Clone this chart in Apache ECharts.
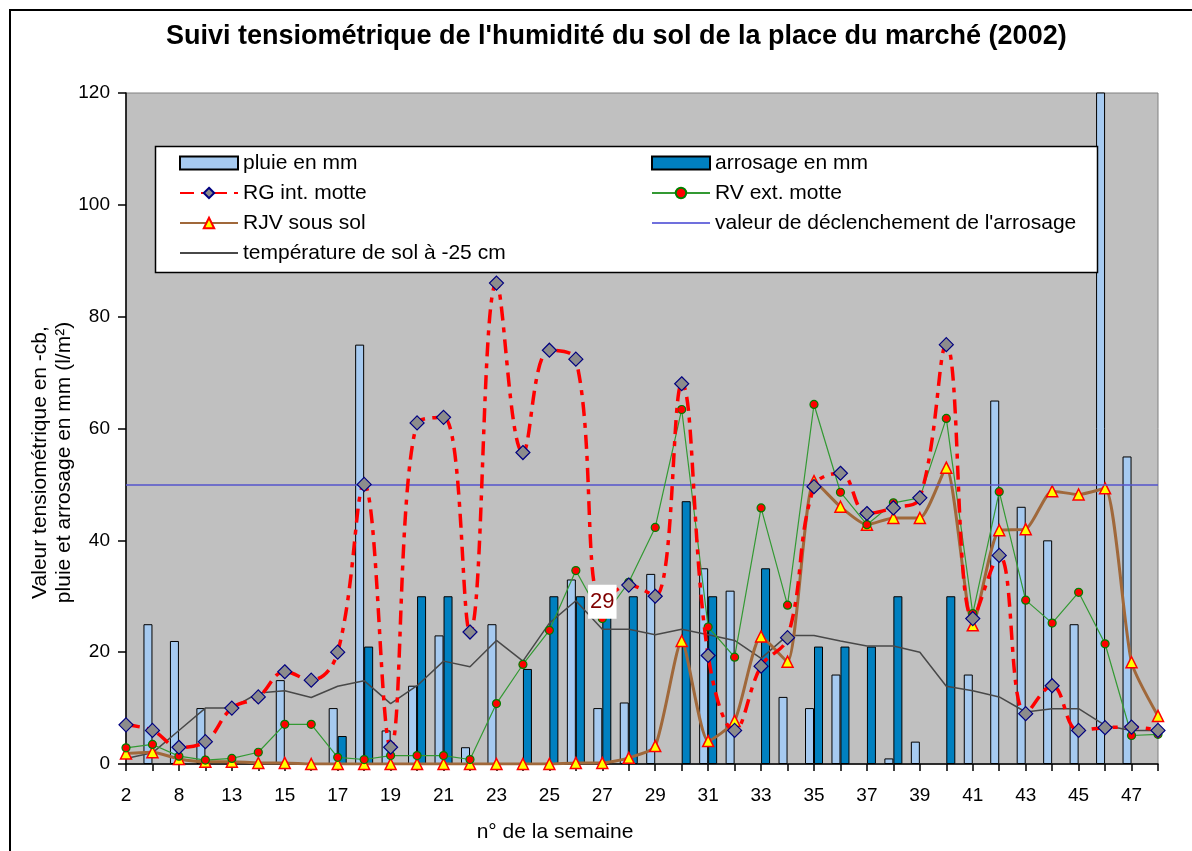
<!DOCTYPE html>
<html>
<head>
<meta charset="utf-8">
<style>
  html, body { margin: 0; padding: 0; background: #fff; }
  #chart { width: 1192px; height: 851px; }
</style>
<script src="https://cdn.jsdelivr.net/npm/echarts@6/dist/echarts.min.js"></script>
</head>
<body>
<div id="chart"></div>
<script>
// semaines (les libellés 5 et 10 sont masqués par l'intervalle d'étiquettes)
const semaines = ['2', '5', '8', '10', '13', '14', '15', '16', '17', '18', '19', '20', '21', '22', '23', '24', '25', '26', '27', '28',
  '29', '30', '31', '32', '33', '34', '35', '36', '37', '38', '39', '40', '41', '42', '43', '44', '45', '46', '47', '48']

const pluie = [null, 25, 22, 10, null, null, 15, null, 10, 75, 6, 14, 23, 3, 25, null, null, 33, 10, 11,
  34, null, 35, 31, null, 12, 10, 16, null, 1, 4, null, 16, 65, 46, 40, 25, 130, 55, null]
const arrosage = [null, null, null, null, null, null, null, null, 5, 21, null, 30, 30, null, null, 17, 30, 30, 30, 30,
  null, 47, 30, null, 35, null, 21, 21, 21, 30, null, 30, null, null, null, null, null, null, null, null]

const rgIntMotte = [7, 6, 3, 4, 10, 12, 16.5, 15, 20, 50, 3, 61, 62, 23.6, 86, 55.7, 74, 72.4, 29, 32,
  30, 68, 19.4, 6, 17.5, 22.6, 49.6, 52, 44.8, 45.8, 47.6, 75, 26, 37.3, 9, 14, 6, 6.5, 6.6, 6]
const rvExtMotte = [2.9, 3.5, 1.4, 0.7, 1, 2.1, 7.1, 7.1, 1.2, 0.8, 1.5, 1.5, 1.5, 0.8, 10.8, 17.8, 23.9, 34.6, 26, 32.5,
  42.3, 63.4, 24.5, 19.1, 45.8, 28.4, 64.3, 48.6, 42.8, 46.7, 47.6, 61.8, 26.9, 48.7, 29.3, 25.2, 30.7, 21.5, 5.1, 5.3]
const rjvSousSol = [1.9, 2.1, 0.9, 0.4, 0.4, 0.2, 0.2, 0, 0, 0, 0, 0, 0, 0, 0, 0, 0, 0.2, 0.2, 1.1,
  3.2, 22, 4.1, 7.7, 22.8, 18.3, 50.6, 46, 42.8, 44, 44, 53, 24.8, 41.8, 42, 48.8, 48.2, 49.3, 18.2, 8.6]
const tempSol = [1, 2, 6, 10, 10, 12.7, 13.1, 11.9, 13.9, 14.9, 10.8, 14, 18.4, 17.4, 22.1, 18.4, 25.2, 29.2, 24.1, 24.1,
  23.1, 24.1, 23.1, 22.1, 18.9, 23, 23, 22, 21.1, 21.1, 20, 13.9, 13.1, 12, 9.3, 9.9, 9.9, 6.9, 6, 6]

const seuilArrosage = 50
const indexEtiquette = 18 // semaine 27, valeur affichée

const police = "'Liberation Sans', Arial, sans-serif"

const chart = echarts.init(document.getElementById('chart'))

const rgData = rgIntMotte.map((v, i) => i === indexEtiquette
  ? {
      value: v,
      symbolSize: 0,
      label: {
        show: true,
        position: 'inside',
        formatter: '{c}',
        color: '#800000',
        fontSize: 22,
        fontFamily: police,
        backgroundColor: '#ffffff',
        padding: [6, 2, 6, 2]
      }
    }
  : v)

const legendeTexte = { fontSize: 21, fontFamily: police, color: '#000', lineHeight: 30, height: 30 }

chart.setOption({
  animation: false,
  backgroundColor: '#ffffff',
  textStyle: { fontFamily: police, color: '#000' },
  title: {
    text: "Suivi tensiométrique de l'humidité du sol de la place du marché (2002)",
    left: 161,
    top: 18,
    textStyle: { fontSize: 27, fontWeight: 'bold', fontFamily: police, color: '#000' }
  },
  graphic: [
    {
      // cadre extérieur
      type: 'rect',
      z: -1,
      shape: { x: 10, y: 10, width: 1200, height: 900 },
      style: { fill: 'none', stroke: '#000', lineWidth: 2 }
    },
    {
      // boîte de la légende
      type: 'rect',
      z: 5,
      shape: { x: 155.5, y: 146.5, width: 942, height: 126 },
      style: { fill: '#fff', stroke: '#000', lineWidth: 1.5 }
    }
  ],
  legend: [
    {
      z: 10,
      orient: 'vertical',
      left: 179,
      top: 148,
      padding: 0,
      itemGap: 0,
      itemWidth: 58,
      itemHeight: 13,
      textStyle: legendeTexte,
      data: [
        { name: 'pluie en mm', icon: 'rect' },
        'RG int. motte',
        'RJV sous sol',
        { name: 'température de sol à -25 cm', itemStyle: { opacity: 0 } }
      ]
    },
    {
      z: 10,
      orient: 'vertical',
      left: 651,
      top: 148,
      padding: 0,
      itemGap: 0,
      itemWidth: 58,
      itemHeight: 13,
      textStyle: legendeTexte,
      data: [
        { name: 'arrosage en mm', icon: 'rect' },
        'RV ext. motte',
        { name: "valeur de déclenchement de l'arrosage", itemStyle: { opacity: 0 } }
      ]
    }
  ],
  grid: {
    left: 126,
    right: 34,
    top: 93,
    bottom: 87,
    show: true,
    backgroundColor: '#c0c0c0',
    borderColor: '#808080',
    borderWidth: 1
  },
  xAxis: {
    type: 'category',
    data: semaines,
    boundaryGap: false,
    name: 'n° de la semaine',
    nameLocation: 'middle',
    nameGap: 58,
    nameMoveOverlap: false,
    nameTextStyle: { fontSize: 21, fontFamily: police, color: '#000', padding: [0, 174, 0, 0] },
    axisLine: { lineStyle: { color: '#000', width: 1.5 } },
    axisTick: { show: true, alignWithLabel: true, interval: 0, length: 7, lineStyle: { color: '#000', width: 1.5 } },
    axisLabel: { interval: 1, fontSize: 19, color: '#000', margin: 22, fontFamily: police },
    splitLine: { show: false }
  },
  yAxis: {
    type: 'value',
    min: 0,
    max: 120,
    interval: 20,
    name: 'Valeur tensiométrique en -cb,\npluie et arrosage en mm (l/m²)',
    nameLocation: 'middle',
    nameRotate: 90,
    nameGap: 50,
    nameMoveOverlap: false,
    nameTextStyle: { fontSize: 21, fontFamily: police, color: '#000', lineHeight: 24, padding: [0, 68, 0, 0] },
    axisLine: { show: true, lineStyle: { color: '#000', width: 1.5 } },
    axisTick: { show: true, length: 8, lineStyle: { color: '#000', width: 1.5 } },
    axisLabel: { fontSize: 19, color: '#000', margin: 16, fontFamily: police },
    splitLine: { show: false }
  },
  series: [
    {
      name: 'pluie en mm',
      type: 'bar',
      data: pluie,
      barWidth: 9,
      barGap: '0%',
      itemStyle: { color: '#a6caf0', borderColor: '#000', borderWidth: 1 }
    },
    {
      name: 'arrosage en mm',
      type: 'bar',
      data: arrosage,
      barWidth: 9,
      barGap: '0%',
      itemStyle: { color: '#0080c0', borderColor: '#000', borderWidth: 1 }
    },
    {
      name: 'température de sol à -25 cm',
      type: 'line',
      data: tempSol,
      symbol: 'none',
      z: 3,
      lineStyle: { color: '#484848', width: 1.5 },
      itemStyle: { color: '#484848' }
    },
    {
      name: "valeur de déclenchement de l'arrosage",
      type: 'line',
      data: [],
      symbol: 'none',
      z: 3,
      lineStyle: { color: '#7070dd', width: 2 },
      itemStyle: { color: '#7070dd' },
      markLine: {
        silent: true,
        symbol: 'none',
        label: { show: false },
        lineStyle: { color: '#5555cc', width: 1.5, type: 'solid' },
        data: [{ yAxis: seuilArrosage }]
      }
    },
    {
      name: 'RJV sous sol',
      type: 'line',
      data: rjvSousSol,
      smooth: 0.2,
      symbol: 'triangle',
      symbolSize: 11,
      z: 4,
      lineStyle: { color: '#a0683a', width: 3 },
      itemStyle: { color: '#ffff00', borderColor: '#ff0000', borderWidth: 1.5 }
    },
    {
      name: 'RV ext. motte',
      type: 'line',
      data: rvExtMotte,
      symbol: 'circle',
      symbolSize: 8,
      z: 5,
      lineStyle: { color: '#339933', width: 1.2 },
      itemStyle: { color: '#ff0000', borderColor: '#008000', borderWidth: 1.2 }
    },
    {
      name: 'RG int. motte',
      type: 'line',
      data: rgData,
      smooth: 0.4,
      symbol: 'diamond',
      symbolSize: 14,
      z: 6,
      lineStyle: { color: '#ff0000', width: 3.5, type: [14, 7, 5, 7] },
      itemStyle: { color: '#8c8c8c', borderColor: '#000080', borderWidth: 1.2 }
    }
  ]
})
</script>
</body>
</html>
